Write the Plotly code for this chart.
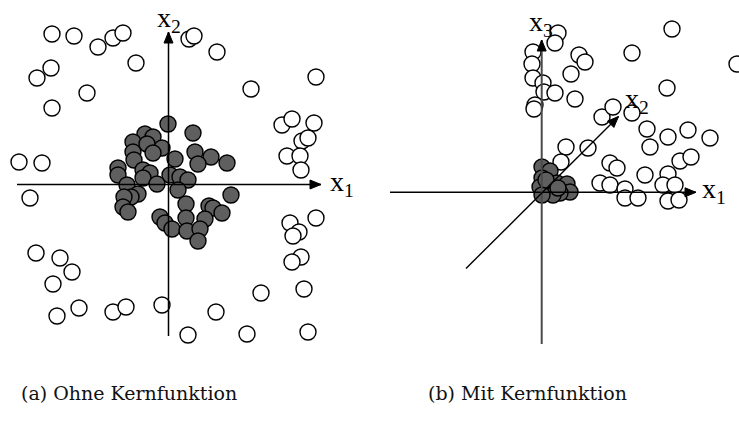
import plotly.graph_objects as go

# ---------------- data (diagram coordinates, px-like units) ----------------
# Panel (a): ohne Kernfunktion
a_open_x = [52, 74, 98, 113, 123, 136, 51, 37, 87, 52, 19, 42,
            189, 194, 217, 251, 316, 282, 292, 314, 302, 308, 287, 300, 301,
            30, 36, 60, 72, 53, 57, 79, 113, 126, 162,
            290, 316, 299, 293, 301, 292, 304, 261, 216, 188, 247, 308]
a_open_y = [34, 36, 47, 38, 33, 63, 68, 78, 93, 108, 162, 163,
            39, 36, 52, 89, 77, 125, 119, 123, 141, 138, 156, 156, 170,
            198, 253, 258, 272, 284, 316, 308, 312, 307, 305,
            223, 218, 232, 236, 257, 262, 289, 293, 312, 335, 334, 332]
a_fill_x = [168, 193, 145, 153, 133, 147, 162, 133, 153, 195, 211, 175, 227, 198,
            134, 118, 143, 118, 150, 170, 180, 188, 143, 127, 157, 178, 138, 131,
            124, 231, 123, 128, 186, 209, 213, 222, 160, 165, 186, 205, 172, 187,
            200, 198]
a_fill_y = [124, 133, 134, 137, 142, 144, 148, 152, 153, 152, 157, 159, 163, 164,
            160, 168, 170, 175, 173, 175, 177, 180, 178, 185, 184, 190, 194, 197,
            197, 195, 207, 212, 204, 206, 208, 213, 217, 223, 218, 219, 229, 231,
            229, 241]

# Panel (b): mit Kernfunktion
b_open_x = [558, 555, 533, 532, 533, 543, 544, 555, 535, 534,
            579, 585, 571, 575, 602, 613, 566, 588, 561, 610, 617, 600, 610, 625,
            632, 672, 737, 667, 632, 647, 650, 668, 688, 710, 680, 691, 645, 668,
            663, 675, 625, 638, 668, 679]
b_open_y = [33, 43, 52, 64, 78, 83, 92, 93, 105, 109,
            55, 62, 74, 99, 117, 107, 147, 148, 162, 163, 168, 183, 185, 189,
            53, 29, 64, 88, 113, 129, 147, 137, 130, 138, 161, 157, 175, 174,
            185, 185, 198, 198, 201, 200]
b_fill_x = [542, 550, 542, 540, 548, 557, 567, 570, 560, 553, 542, 546, 558]
b_fill_y = [167, 171, 178, 187, 192, 183, 184, 192, 193, 195, 195, 180, 188]

captions = ["(a) Ohne Kernfunktion", "(b) Mit Kernfunktion"]
caption_x = [129, 527]

# ---------------- figure ----------------
W, H = 739, 423
MS = 16
open_marker = dict(size=MS, color="white", line=dict(color="black", width=1.4))
fill_marker = dict(size=MS, color="#5f5f5f", line=dict(color="black", width=1.4))

fig = go.Figure()
for xs, ys, mk in [(a_open_x, a_open_y, open_marker), (a_fill_x, a_fill_y, fill_marker),
                   (b_open_x, b_open_y, open_marker), (b_fill_x, b_fill_y, fill_marker)]:
    fig.add_trace(go.Scatter(x=xs, y=ys, mode="markers", marker=mk,
                             hoverinfo="skip", showlegend=False, cliponaxis=False))

def arrow(x0, y0, x1, y1, color="black", width=1.5, head=True):
    shapes = [dict(type="line", x0=x0, y0=y0, x1=x1, y1=y1, xref="x", yref="y",
                   line=dict(color=color, width=width), layer="above")]
    if head:
        dx, dy = x1 - x0, y1 - y0
        L = (dx * dx + dy * dy) ** 0.5
        ux, uy = dx / L, dy / L
        hl, hw = 11, 4.5
        bx, by = x1 - ux * hl, y1 - uy * hl
        px, py = -uy * hw, ux * hw
        path = f"M {x1},{y1} L {bx+px},{by+py} L {bx-px},{by-py} Z"
        shapes.append(dict(type="path", path=path, xref="x", yref="y",
                           fillcolor="black", line=dict(color="black", width=1), layer="above"))
    return shapes

shapes = []
# panel (a) axes
shapes += arrow(17, 184.5, 321, 184.5)
shapes += arrow(168.5, 336, 168.5, 32)
# panel (b) axes
shapes += arrow(390, 192.3, 696, 192.3)
shapes += arrow(541.7, 344, 541.7, 40, color="#4a4a4a", width=2)
shapes += arrow(466, 268.5, 618.5, 116.5, width=1.4)

lab_font = dict(family="Liberation Serif", size=28, color="black")
labels = [("x<sub>1</sub>", 328, 183, "middle"), ("x<sub>2</sub>", 155, 0, "top"),
          ("x<sub>3</sub>", 527, 4, "top"), ("x<sub>2</sub>", 623, 100, "middle"),
          ("x<sub>1</sub>", 700, 190, "middle")]
annotations = [dict(text=t, x=x, y=y, xref="x", yref="y", showarrow=False,
                    xanchor="left", yanchor=ya, font=lab_font) for t, x, y, ya in labels]
for c, cx in zip(captions, caption_x):
    annotations.append(dict(text=c, x=cx, y=393, xref="x", yref="y", showarrow=False,
                            xanchor="center", yanchor="middle",
                            font=dict(family="DejaVu Serif", size=19, color="#111")))

fig.update_layout(width=W, height=H, margin=dict(l=0, r=0, t=0, b=0),
                  paper_bgcolor="white", plot_bgcolor="white",
                  xaxis=dict(range=[0, W], visible=False, fixedrange=True),
                  yaxis=dict(range=[H, 0], visible=False, fixedrange=True),
                  shapes=shapes, annotations=annotations)
fig.write_html("out.html", config=dict(displayModeBar=False),
               post_script="document.body.style.margin='0';document.body.style.overflow='hidden';")
